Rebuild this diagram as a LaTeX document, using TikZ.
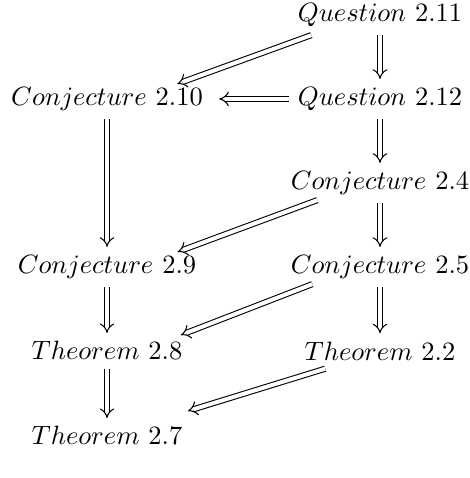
\documentclass[tikz,border=0pt]{standalone}
\usetikzlibrary{arrows.meta}
\begin{document}
\begin{tikzpicture}[
 x=0.3774pt,y=-0.3774pt,
 res/.style={inner sep=3pt},
 imp/.style={double,double distance=1.5pt,-{Implies},line width=0.4pt}
]
\useasboundingbox (0,0) rectangle (470,478);
\node[res] (q11) at (380,15) {$Question$ 2.11};
\node[res] (c10) at (107,99) {$Conjecture$ 2.10};
\node[res] (q12) at (380,99) {$Question$ 2.12};
\node[res] (c4) at (380,183) {$Conjecture$ 2.4};
\node[res] (c9) at (107,267) {$Conjecture$ 2.9};
\node[res] (c5) at (380,267) {$Conjecture$ 2.5};
\node[res] (t8) at (107,351) {$Theorem$ 2.8};
\node[res] (t2) at (380,351) {$Theorem$ 2.2};
\node[res] (t7) at (107,436) {$Theorem$ 2.7};
% vertical and horizontal implications
\draw[imp] (q11) -- (q12);
\draw[imp] (q12) -- ([shift={(8,0)}]c10.east);
\draw[imp] (q12) -- (c4);
\draw[imp] (c10) -- (c9);
\draw[imp] (c4) -- (c5);
\draw[imp] (c9) -- (t8);
\draw[imp] (c5) -- (t2);
\draw[imp] (t8) -- (t7);
% diagonal ones
\draw[imp] ([shift={(22,0)}]q11.south west) -- ([shift={(-34,5)}]c10.north east);
\draw[imp] ([shift={(35,-3)}]c4.south west) -- ([shift={(-27,5)}]c9.north east);
\draw[imp] ([shift={(30,-3)}]c5.south west) -- ([shift={(-10,2)}]t8.north east);
\draw[imp] ([shift={(29,0)}]t2.south west) -- ([shift={(-3,-7)}]t7.north east);
\end{tikzpicture}
\end{document}
